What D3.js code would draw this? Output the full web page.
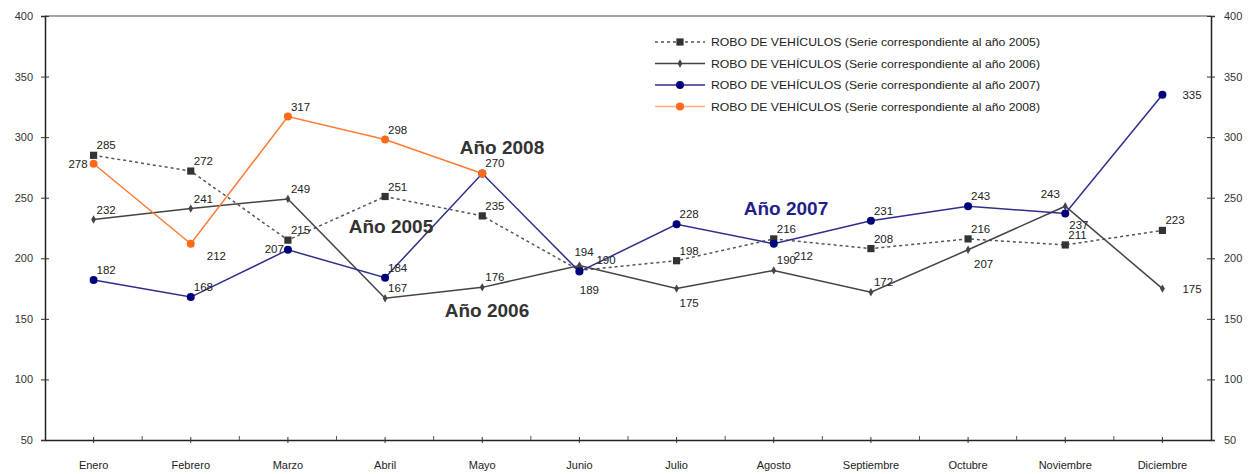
<!DOCTYPE html>
<html>
<head>
<meta charset="utf-8">
<script src="https://cdn.jsdelivr.net/npm/d3@7"></script>
<style>
  body { margin: 0; background: #fff; }
  svg text { font-family: "Liberation Sans", Arial, sans-serif; }
</style>
</head>
<body>
<svg id="chart" width="1251" height="474"></svg>
<script>
// ----- data ----- //
const months = ["Enero", "Febrero", "Marzo", "Abril", "Mayo", "Junio", "Julio",
                "Agosto", "Septiembre", "Octubre", "Noviembre", "Diciembre"];
const yTicks = [50, 100, 150, 200, 250, 300, 350, 400];

const robo2005 = [285, 272, 215, 251, 235, 190, 198, 216, 208, 216, 211, 223];
const robo2006 = [232, 241, 249, 167, 176, 194, 175, 190, 172, 207, 243, 175];
const robo2007 = [182, 168, 207, 184, 270, 189, 228, 212, 231, 243, 237, 335];
const robo2008 = [278, 212, 317, 298, 270];

const legendLabels = [
  "ROBO DE VEHÍCULOS (Serie correspondiente al año 2005)",
  "ROBO DE VEHÍCULOS (Serie correspondiente al año 2006)",
  "ROBO DE VEHÍCULOS (Serie correspondiente al año 2007)",
  "ROBO DE VEHÍCULOS (Serie correspondiente al año 2008)"
];

// label placement (dx, dy, anchor) relative to the point, per series
const defOff = [3, -6, "start"];
const labelOffsets = {
  2005: {5: [17, -6, "start"]},
  2006: {5: [-5, -10, "start"], 6: [3, 18, "start"], 9: [6, 18, "start"], 10: [-15, -8, "middle"], 11: [20, 4, "start"]},
  2007: {2: [-4, 3, "end"], 4: null, 5: [10, 22, "middle"], 7: [20, 16, "start"], 10: [4, 16, "start"], 11: [20, 4, "start"]},
  2008: {0: [-6, 4, "end"], 1: [16, 16, "start"]}
};

const series = [
  {year: 2005, values: robo2005, color: "#555", markColor: "#333", dash: "3,3", marker: "square"},
  {year: 2006, values: robo2006, color: "#444", markColor: "#444", dash: null, marker: "diamond"},
  {year: 2007, values: robo2007, color: "#2e2e8c", markColor: "#00007a", dash: null, marker: "circle"},
  {year: 2008, values: robo2008, color: "#ff7a33", markColor: "#ff6a1a", dash: null, marker: "circle"}
];

// ----- scales ----- //
const mLeft = 45, mRight = 1211, mTop = 16, mBottom = 440;
const svg = d3.select("#chart");

const x = d3.scaleBand().domain(months).range([mLeft, mRight]);
const cx = m => x(m) + x.bandwidth() / 2;
const y = d3.scaleLinear().domain([50, 400]).range([mBottom, mTop]);

// top border
svg.append("line").attr("x1", mLeft).attr("x2", mRight).attr("y1", mTop).attr("y2", mTop)
  .attr("stroke", "#888").attr("stroke-width", 1.5);

// ----- axes ----- //
const axisL = svg.append("g").attr("transform", `translate(${mLeft},0)`)
  .call(d3.axisLeft(y).tickValues(yTicks).tickSize(4).tickPadding(8));
const axisR = svg.append("g").attr("transform", `translate(${mRight},0)`)
  .call(d3.axisRight(y).tickValues(yTicks).tickSize(4).tickPadding(9));
[axisL, axisR].forEach(g => {
  g.select(".domain").attr("stroke", "#222").attr("stroke-width", 1.5);
  g.selectAll(".tick line").attr("stroke", "#333").attr("x1", -4).attr("x2", 4);
  g.selectAll(".tick text").attr("fill", "#333").style("font-size", "11px");
});

const axisB = svg.append("g").attr("transform", `translate(0,${mBottom})`)
  .call(d3.axisBottom(x).tickSize(0).tickPadding(21));
axisB.select(".domain").attr("stroke", "#222").attr("stroke-width", 1.5);
axisB.selectAll(".tick text").attr("fill", "#222").style("font-size", "11px");
// ticks at month centers and at band boundaries
axisB.selectAll(".tick").append("line").attr("y1", -3).attr("y2", 3).attr("stroke", "#333");
svg.append("g").selectAll("line")
  .data(months.slice(1))
  .join("line")
  .attr("x1", d => x(d)).attr("x2", d => x(d))
  .attr("y1", mBottom - 4).attr("y2", mBottom)
  .attr("stroke", "#555");

// ----- lines ----- //
const line = d3.line().x((d, i) => cx(months[i])).y(d => y(d));

function drawMarker(g, s, size) {
  if (s.marker === "square") {
    g.append("rect").attr("x", -size).attr("y", -size)
      .attr("width", size * 2).attr("height", size * 2).attr("fill", s.markColor);
  } else if (s.marker === "diamond") {
    g.append("path").attr("d", d3.symbol(d3.symbolDiamond, size * size * 3)())
      .attr("fill", s.markColor);
  } else {
    g.append("circle").attr("r", size).attr("fill", s.markColor);
  }
}
const markSize = {square: 3.6, diamond: 2.6, circle: 4};

series.forEach(s => {
  svg.append("path").datum(s.values)
    .attr("d", line)
    .attr("fill", "none")
    .attr("stroke", s.color)
    .attr("stroke-width", 1.5)
    .attr("stroke-dasharray", s.dash);

  const pts = svg.append("g").selectAll("g")
    .data(s.values)
    .join("g")
    .attr("transform", (d, i) => `translate(${cx(months[i])},${y(d)})`);
  pts.each(function () { drawMarker(d3.select(this), s, markSize[s.marker]); });
});

// ----- value labels ----- //
series.forEach(s => {
  const offs = labelOffsets[s.year];
  const items = s.values
    .map((v, i) => ({v, i, o: (i in offs) ? offs[i] : defOff}))
    .filter(d => d.o !== null);
  svg.append("g").selectAll("text")
    .data(items)
    .join("text")
    .attr("x", d => cx(months[d.i]) + d.o[0])
    .attr("y", d => y(d.v) + d.o[1])
    .attr("text-anchor", d => d.o[2])
    .style("font-size", "11.5px")
    .attr("fill", "#222")
    .text(d => d.v);
});

// ----- annotations ----- //
const notes = [
  {text: "Año 2008", x: 502, y: 154, color: "#333"},
  {text: "Año 2005", x: 391, y: 233, color: "#333"},
  {text: "Año 2006", x: 487, y: 317, color: "#333"},
  {text: "Año 2007", x: 786, y: 215, color: "#1f1f8a"}
];
svg.append("g").selectAll("text")
  .data(notes)
  .join("text")
  .attr("x", d => d.x).attr("y", d => d.y)
  .attr("text-anchor", "middle")
  .style("font-size", "19px").style("font-weight", "bold")
  .attr("fill", d => d.color)
  .text(d => d.text);

// ----- legend ----- //
const legend = svg.append("g").attr("transform", "translate(655,42)");
const rows = legend.selectAll("g")
  .data(series)
  .join("g")
  .attr("transform", (d, i) => `translate(0,${i * 21.5})`);
rows.append("line").attr("x1", 0).attr("x2", 50)
  .attr("stroke", d => d.color).attr("stroke-width", 1.5)
  .attr("stroke-dasharray", d => d.dash)
  .attr("opacity", d => d.year === 2008 ? 0.6 : 1);
rows.each(function (d) {
  const g = d3.select(this).append("g").attr("transform", "translate(25,0)");
  drawMarker(g, d, markSize[d.marker]);
});
rows.append("text")
  .attr("x", 56).attr("y", 4)
  .style("font-size", "11px")
  .attr("fill", "#222")
  .attr("textLength", 329)
  .attr("lengthAdjust", "spacingAndGlyphs")
  .text((d, i) => legendLabels[i]);
</script>
</body>
</html>
